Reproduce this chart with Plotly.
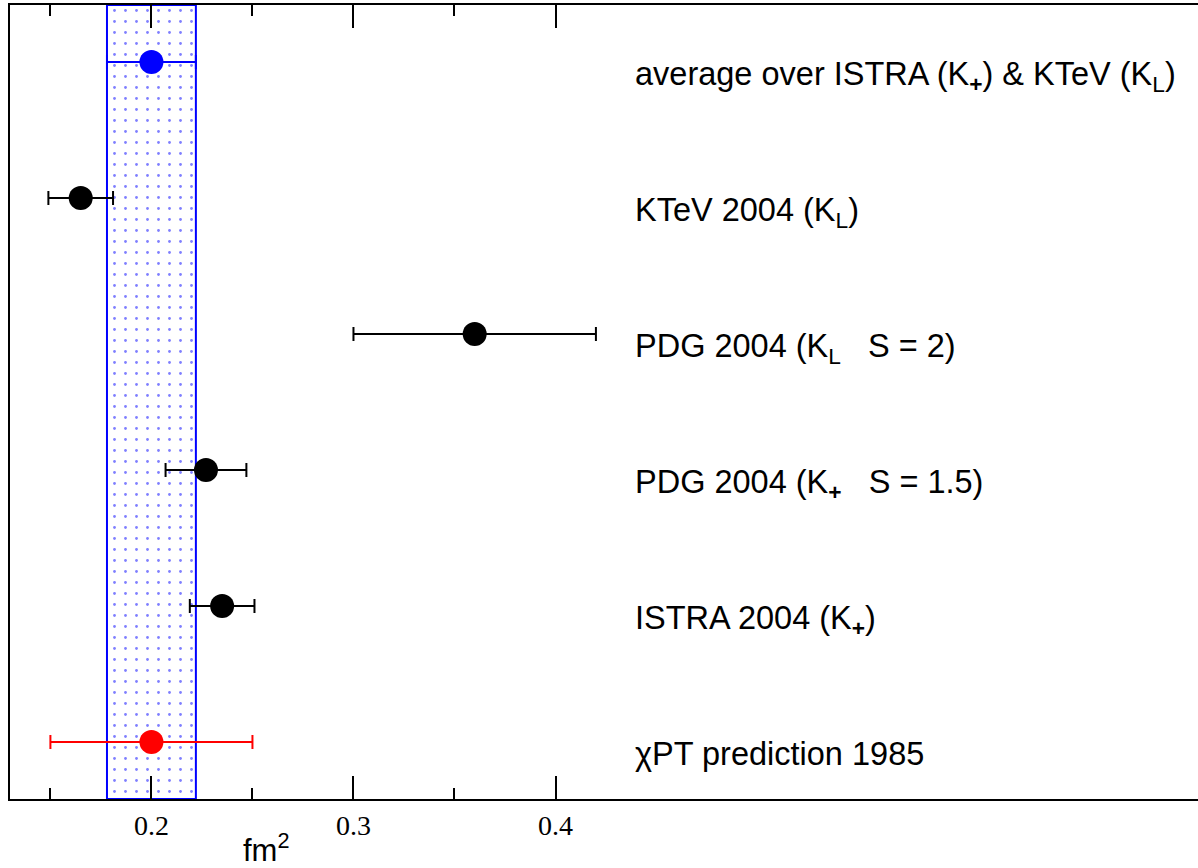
import plotly.graph_objects as go

# Charge radius measurements (fm^2), top row first
labels = [
    "average over ISTRA (K<sub><b>+</b></sub>) &amp; KTeV (K<sub>L</sub>)",
    "KTeV 2004 (K<sub>L</sub>)",
    "PDG 2004 (K<sub>L</sub>\u00a0\u00a0\u00a0S = 2)",
    "PDG 2004 (K<sub><b>+</b></sub>\u00a0\u00a0\u00a0S = 1.5)",
    "ISTRA 2004 (K<sub><b>+</b></sub>)",
    "\u03c7PT prediction 1985",
]
values = [0.200, 0.165, 0.360, 0.227, 0.235, 0.200]
errors = [0.022, 0.016, 0.060, 0.020, 0.016, 0.050]
colors = ["#0000ff", "#000000", "#000000", "#000000", "#000000", "#ff0000"]
rows = [6, 5, 4, 3, 2, 1]

major_ticks = [0.2, 0.3, 0.4]
minor_ticks = [0.15, 0.25, 0.35]

x_range = [0.130, 0.718]
y_range = [0.581, 6.419]

fig = go.Figure()

# Band of the combined average, with dotted fill (base axis, drawn underneath)
avg, avg_err = values[0], errors[0]
lo, hi = avg - avg_err, avg + avg_err
fig.add_trace(go.Scatter(
    x=[lo, hi, hi, lo, lo],
    y=[y_range[0], y_range[0], y_range[1], y_range[1], y_range[0]],
    mode="lines",
    fill="toself",
    fillcolor="rgba(0,0,0,0)",
    fillpattern=dict(shape=".", fgcolor="#0000ff", bgcolor="white",
                     size=11, solidity=0.05),
    line=dict(color="#0000ff", width=2),
    hoverinfo="skip",
    showlegend=False,
))

# Measurements with horizontal error bars (overlay axis, drawn on top)
for v, e, c, r in zip(values, errors, colors, rows):
    fig.add_trace(go.Scatter(
        x=[v], y=[r], xaxis="x2", yaxis="y",
        mode="markers",
        marker=dict(size=24, color=c, line=dict(width=0)),
        error_x=dict(type="data", array=[e], color=c, thickness=2, width=7),
        showlegend=False,
    ))

# Row labels
for lab, r in zip(labels, rows):
    fig.add_annotation(
        x=0.4385, y=r, xref="x", yref="y", yshift=8,
        text=lab, showarrow=False, xanchor="left", yanchor="top",
        font=dict(family="Liberation Sans, Arial, sans-serif", size=32.5, color="black"),
    )

# Axis unit
fig.add_annotation(
    x=(266 - 10) / 1188, y=-0.062, xref="paper", yref="paper",
    text="fm<sup>2</sup>", showarrow=False, xanchor="center", yanchor="middle",
    font=dict(family="Liberation Sans, Arial, sans-serif", size=31, color="black"),
)

# Short ticks (half steps) on the base axis, long labelled ticks on the overlay
fig.update_layout(
    xaxis=dict(
        range=x_range,
        tickmode="array", tickvals=minor_ticks, showticklabels=False,
        ticks="inside", ticklen=11, tickwidth=2, tickcolor="black",
        showline=True, linewidth=2, linecolor="black", mirror="ticks",
        showgrid=False, zeroline=False,
    ),
    xaxis2=dict(
        overlaying="x", anchor="y", side="bottom",
        range=x_range,
        tickmode="array", tickvals=major_ticks,
        ticktext=[f"{t:.1f}" for t in major_ticks],
        ticks="inside", ticklen=23, tickwidth=2, tickcolor="black",
        showline=True, linewidth=2, linecolor="black", mirror="ticks",
        showgrid=False, zeroline=False,
        tickfont=dict(family="Liberation Serif, Times New Roman, serif", size=28, color="black"),
    ),
    yaxis=dict(
        range=y_range, showticklabels=False, ticks="",
        showline=True, linewidth=2, linecolor="black",
        showgrid=False, zeroline=False,
    ),
    width=1198, height=868,
    margin=dict(l=10, r=0, t=5, b=69),
    plot_bgcolor="white", paper_bgcolor="white",
)

fig.write_html("out.html")
